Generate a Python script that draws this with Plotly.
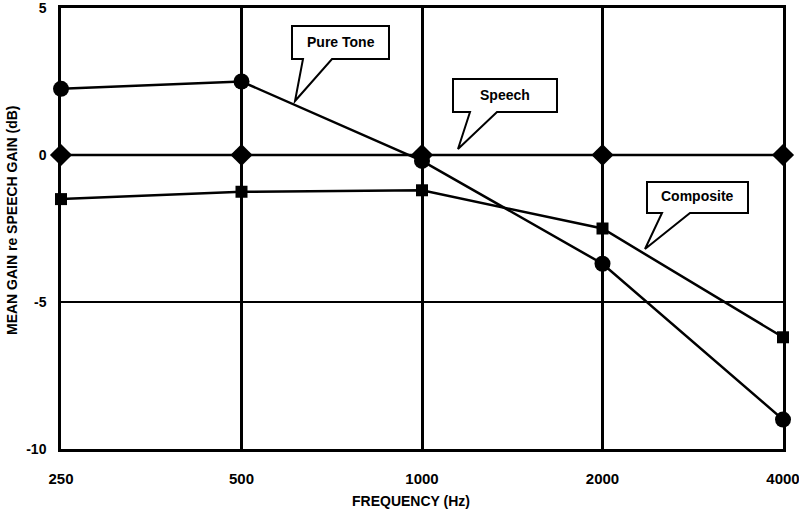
import plotly.graph_objects as go

freqs = ["250", "500", "1000", "2000", "4000"]
pure_tone = [2.25, 2.5, -0.2, -3.7, -9.0]
speech = [0, 0, 0, 0, 0]
composite = [-1.5, -1.25, -1.2, -2.5, -6.2]
y_ticks = [5, 0, -5, -10]

W, H = 799, 512
L, R, T, B = 61, 16, 8, 63
PW, PH = W - L - R, H - T - B

def px(x):
    return (x - L) / PW

def py(y):
    return (H - B - y) / PH

fig = go.Figure()
line = dict(color="black", width=2.5)
fig.add_trace(go.Scatter(x=freqs, y=speech, mode="lines+markers", line=line,
                         marker=dict(symbol="diamond", size=17, color="black"), name="Speech",
                         cliponaxis=False))
fig.add_trace(go.Scatter(x=freqs, y=composite, mode="lines+markers", line=line,
                         marker=dict(symbol="square", size=12, color="black"), name="Composite",
                         cliponaxis=False))
fig.add_trace(go.Scatter(x=freqs, y=pure_tone, mode="lines+markers", line=line,
                         marker=dict(symbol="circle", size=16, color="black"), name="Pure Tone",
                         cliponaxis=False))

FAM = "Liberation Sans, Arial, sans-serif"
font = dict(family=FAM, size=13, color="black")

# callouts: box (x0,x1,y0,y1), wedge base (a,b), tip (tx,ty)
callouts = [
    ("Pure Tone", 292, 389, 26, 59, 303, 332, 295, 101),
    ("Speech", 453, 557, 79, 112, 470, 497, 458, 149),
    ("Composite", 647, 748, 182, 213, 662, 690, 645, 249),
]
shapes = []
annotations = []
for text, x0, x1, y0, y1, a, b, tx, ty in callouts:
    pts = [(x0, y0), (x1, y0), (x1, y1), (b, y1), (tx, ty), (a, y1), (x0, y1)]
    path = "M " + " L ".join(f"{px(x):.5f},{py(y):.5f}" for x, y in pts) + " Z"
    shapes.append(dict(type="path", path=path, xref="paper", yref="paper",
                       line=dict(color="black", width=2), fillcolor="white", layer="above"))
    annotations.append(dict(text="<b>" + text + "</b>", x=px((x0 + x1) / 2), y=py((y0 + y1) / 2 - 1),
                            xref="paper", yref="paper", showarrow=False,
                            font=dict(family=FAM, size=14, color="black"),
                            xanchor="center", yanchor="middle"))

annotations.append(dict(text="<b>FREQUENCY (Hz)</b>", x=px(411), y=py(501), xref="paper", yref="paper",
                        showarrow=False, font=dict(family=FAM, size=14, color="black"),
                        xanchor="center", yanchor="middle"))
annotations.append(dict(text="<b>MEAN GAIN re SPEECH GAIN (dB)</b>", x=px(12), y=py(221), xref="paper",
                        yref="paper", showarrow=False, textangle=-90,
                        font=dict(family=FAM, size=14, color="black"),
                        xanchor="center", yanchor="middle"))

fig.update_layout(
    width=W, height=H,
    margin=dict(l=L, r=R, t=T, b=B, autoexpand=False),
    paper_bgcolor="white", plot_bgcolor="white",
    showlegend=False,
    shapes=shapes, annotations=annotations,
    font=font,
)
fig.update_xaxes(type="category", range=[0, 4], showgrid=True, gridcolor="black", gridwidth=2.5,
                 showline=True, linecolor="black", linewidth=2.5, mirror=True, zeroline=False,
                 tickfont=dict(family=FAM, size=15, color="black", weight="bold"),
                 ticks="", ticklabelstandoff=14, automargin=False, ticklabeloverflow="allow")
fig.update_yaxes(range=[-10, 5], tickvals=y_ticks, ticktext=[str(v) for v in y_ticks],
                 showgrid=True, gridcolor="black", gridwidth=1.5,
                 showline=True, linecolor="black", linewidth=2.5, mirror=True, zeroline=False,
                 tickfont=dict(family=FAM, size=14, color="black", weight="bold"),
                 ticks="", ticklabelstandoff=9, automargin=False, ticklabeloverflow="allow")

fig.write_html("out.html", config={"displayModeBar": False},
               post_script="document.body.style.margin='0px';")
